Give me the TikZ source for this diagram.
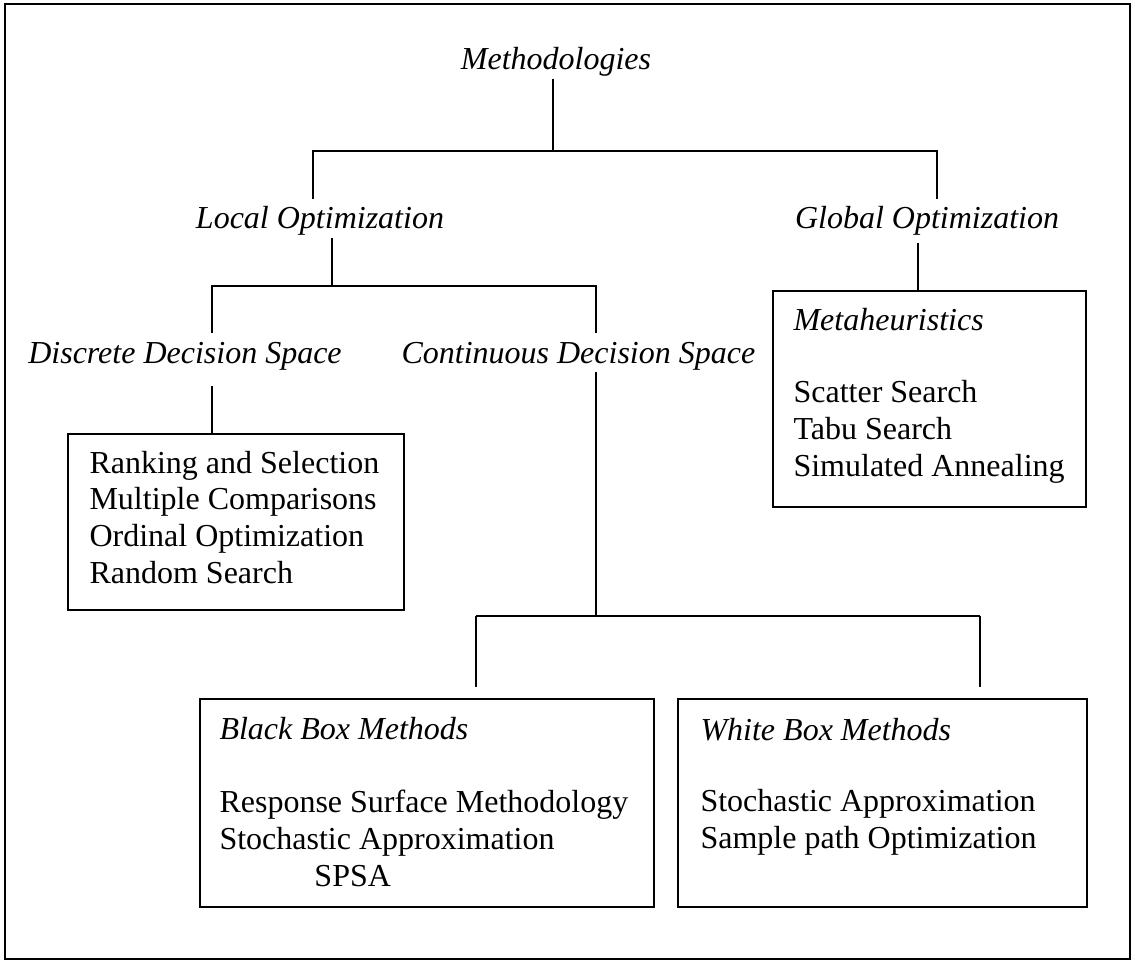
\documentclass[tikz,border=0pt]{standalone}
\usepackage{fontspec}
\setmainfont{Liberation Serif}
\usetikzlibrary{positioning}

\tikzset{
  head/.style={font=\fontsize{12}{13.75}\selectfont\itshape, inner sep=0pt,
    text height=11pt, text depth=3pt},
  item/.style={font=\fontsize{12}{13.75}\selectfont, inner sep=0pt, align=left},
  box/.style={draw, line width=0.65pt, inner sep=0pt},
  link/.style={line width=0.5pt},
}

\begin{document}
\begin{tikzpicture}[x=0.375pt,y=-0.375pt]
\useasboundingbox (0,0) rectangle (1135,962);
\draw[line width=1pt] (5,4) rectangle (1130,959);

% headings
\node[head, anchor=base] (meth) at (556,70) {Methodologies};
\node[head, anchor=base] (local) at (320,229) {Local Optimization};
\node[head, anchor=base] (global) at (927,229) {Global Optimization};
\node[head, anchor=base] (discrete) at (185,363) {Discrete Decision Space};
\node[head, anchor=base west] (cont) at (401,363) {Continuous Decision Space};

% boxes
\node[box, minimum width=126pt, minimum height=66pt] (rs) at (236,522) {};
\node[box, minimum width=117.4pt, minimum height=81pt] (meta) at (929.5,399) {};
\node[box, minimum width=170.3pt, minimum height=78pt] (black) at (427,803) {};
\node[box, minimum width=153.4pt, minimum height=78pt] (white) at (882.5,803) {};

% box contents (base = baseline of the last line)
\node[item, anchor=base west] (rs list) at (89,583)
  {Ranking and Selection\\Multiple Comparisons\\Ordinal Optimization\\Random Search};
\node[head, anchor=base west] (meta title) at (793,330) {Metaheuristics};
\node[item, anchor=base west] (meta list) at (793,476)
  {Scatter Search\\Tabu Search\\Simulated Annealing};
\node[head, anchor=base west] (black title) at (219,739) {Black Box Methods};
\node[item, anchor=base west] (black list) at (219,886)
  {Response Surface Methodology\\Stochastic Approximation\\\hspace*{35.6pt}SPSA};
\node[head, anchor=base west] (white title) at (700,740) {White Box Methods};
\node[item, anchor=base west] (white list) at (700,848)
  {Stochastic Approximation\\Sample path Optimization};

% tree lines
\coordinate (jmeth) at (553,151);
\coordinate (tlocal) at (313,151);
\coordinate (tglobal) at (937,151);
\coordinate (jlocal) at (332,286);
\coordinate (tdisc) at (212,286);
\coordinate (tcont) at (596,286);
\coordinate (tmeta) at (918,291);
\coordinate (jcont) at (596,616);
\coordinate (tblack) at (476,616);
\coordinate (twhite) at (980,616);

\draw[link] (meth.south -| jmeth) -- (jmeth);
\draw[link] (local.north -| tlocal) -- (tlocal) -- (tglobal) -- (global.north -| tglobal);
\draw[link] (local.south -| jlocal) -- (jlocal);
\draw[link] (discrete.north -| tdisc) -- (tdisc) -- (tcont) -- (cont.north -| tcont);
\draw[link, shorten <=5.6pt] (discrete.south -| tdisc) -- (rs.north -| tdisc);
\draw[link, shorten <=2pt] (global.south -| tmeta) -- (meta.north -| tmeta);
\draw[link] (cont.south -| jcont) -- (jcont);
\draw[link] (tblack) -- (twhite);
\draw[link, shorten >=4pt] (tblack) -- (black.north -| tblack);
\draw[link, shorten >=4pt] (twhite) -- (white.north -| twhite);
\end{tikzpicture}
\end{document}
